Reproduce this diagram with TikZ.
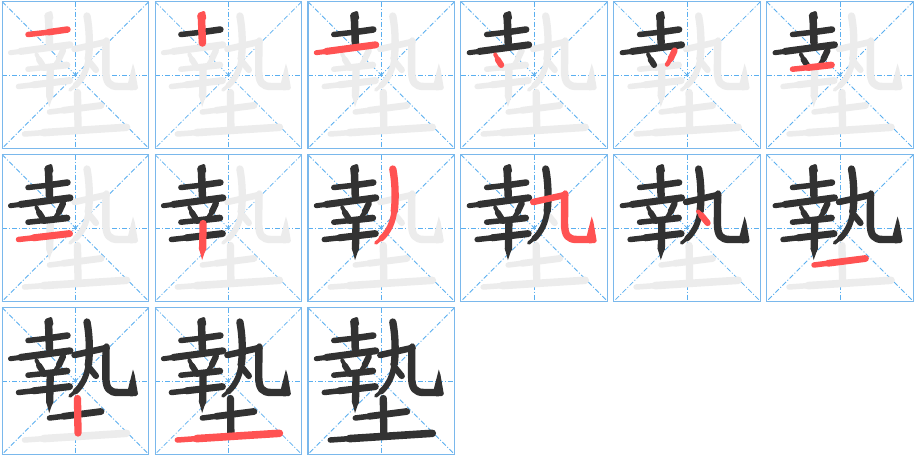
\documentclass[tikz,border=0pt]{standalone}
\usetikzlibrary{calc}
\definecolor{gry}{HTML}{ECECEC}
\definecolor{blk}{HTML}{323232}
\definecolor{rd}{HTML}{FF5252}
\definecolor{gb}{HTML}{7AB8EC}
\definecolor{gd}{HTML}{5AAFF0}
\colorlet{cur}{blk}
\tikzset{
  sk/.style={draw=cur, line cap=round, line join=round},
  gridb/.style={draw=gb, line width=1.1pt},
  gridd/.style={draw=gd, line width=0.8pt, dash pattern=on 5pt off 2pt on 1pt off 2pt},
}
\expandafter\def\csname stk1\endcsname{\draw[sk,line width=5.5] (-47.5,-40.5) -- (-25,-43);\draw[sk,line width=6.5] (-27,-42.8) -- (-8,-45.5);}
\expandafter\def\csname stk2\endcsname{\draw[sk,line width=7.5] (-27,-59) -- (-26,-32);\fill[cur,rounded corners=2pt] (-31.5,-61.5) -- (-23.5,-64.5) -- (-21.8,-55) -- (-30,-53) -- cycle;}
\expandafter\def\csname stk3\endcsname{\draw[sk,line width=5] (-65,-22.3) -- (-52,-24);\draw[sk,line width=7] (-55,-23.6) -- (-5.5,-30.2);}
\expandafter\def\csname stk4\endcsname{\draw[sk,line width=4] (-39,-20.5) -- (-36,-15);\draw[sk,line width=6] (-36.5,-15.5) -- (-33,-10);}
\expandafter\def\csname stk5\endcsname{\draw[sk,line width=6.2] (-12.5,-24.5) -- (-16.5,-16);\draw[sk,line width=4.5] (-16.5,-16) -- (-20,-10.5);}
\expandafter\def\csname stk6\endcsname{\draw[sk,line width=5.5] (-47.5,-5.8) -- (-30,-7.6);\draw[sk,line width=6.7] (-32,-7.4) -- (-8.5,-10);}
\expandafter\def\csname stk7\endcsname{\draw[sk,line width=5.5] (-57,11.5) -- (-40,9.6);\draw[sk,line width=7] (-42,9.8) -- (-6,5.6);}
\expandafter\def\csname stk8\endcsname{\draw[sk,line width=7.3] (-25.3,-4.5) -- (-25.8,21);\fill[cur] (-29.5,20) -- (-22.2,20) -- (-26.3,32) -- cycle;}
\expandafter\def\csname stk9\endcsname{\draw[sk,line width=7.3] (11.5,-59) .. controls (14,-46) and (14.5,-30) .. (13,-17);\draw[sk,line width=5.8] (13,-17) .. controls (11.5,-5) and (7,4) .. (0,10.5);\draw[sk,line width=3.5] (0.5,10) -- (-5.5,15);}
\expandafter\def\csname stk10\endcsname{\draw[sk,line width=6.5] (-1,-26) -- (30.5,-33);\fill[cur,rounded corners=1.5pt] (27,-35) -- (31.5,-38.5) -- (35,-34) -- (33,-30) -- cycle;\draw[sk,line width=7.4] (30.5,-33) -- (30.3,-5) .. controls (30.3,8) and (34,11.5) .. (43,11.5) -- (55,11.5);\fill[cur] (52.5,8) -- (57.5,-11.5) -- (59.2,-6) -- (62.5,13) .. controls (61.5,15.2) .. (55,15.3) -- cycle;}
\expandafter\def\csname stk11\endcsname{\draw[sk,line width=4] (11,-16.5) -- (14.5,-12.5);\draw[sk,line width=6.2] (14,-13) -- (20.5,-5);}
\expandafter\def\csname stk12\endcsname{\draw[sk,line width=5.5] (-26,37) -- (-10,35);\draw[sk,line width=6.8] (-12,35.3) -- (25.5,30.5);}
\expandafter\def\csname stk13\endcsname{\draw[sk,line width=7.3] (2,17.5) -- (2.5,52);}
\expandafter\def\csname stk14\endcsname{\draw[sk,line width=5.5] (-51,59) -- (-30,57.5);\draw[sk,line width=7.6] (-32,57.6) -- (51,52.3);}
\begin{document}
\begin{tikzpicture}[x=1pt,y=-1pt]
\useasboundingbox (0,0) rectangle (915,456);
\fill[white] (0,0) rectangle (915,456);
\foreach \k in {0,...,14}{
  \pgfmathtruncatemacro\col{mod(\k,6)}
  \pgfmathtruncatemacro\row{div(\k,6)}
  \pgfmathsetmacro\cx{75.5+152.9*\col}
  \pgfmathsetmacro\cy{75+153*\row}
  \pgfmathtruncatemacro\cs{\k+1}
  \begin{scope}[shift={(\cx,\cy)}]
    \draw[gridd] (-73.3,0) -- (73.3,0);
    \draw[gridd] (0,-73.3) -- (0,73.3);
    \draw[gridd] (-73.3,-73.3) -- (73.3,73.3);
    \draw[gridd] (73.3,-73.3) -- (-73.3,73.3);
    \draw[gridb] (-73.3,-73.3) rectangle (73.3,73.3);
    \foreach \s in {1,...,14}{
      \ifnum\s>\cs\relax
        \colorlet{cur}{gry}\csname stk\s\endcsname
      \fi
    }
    \foreach \s in {1,...,14}{
      \ifnum\s<\cs\relax
        \colorlet{cur}{blk}\csname stk\s\endcsname
      \fi
      \ifnum\s=\cs\relax
        \colorlet{cur}{rd}\csname stk\s\endcsname
      \fi
    }
  \end{scope}
}
\end{tikzpicture}
\end{document}
